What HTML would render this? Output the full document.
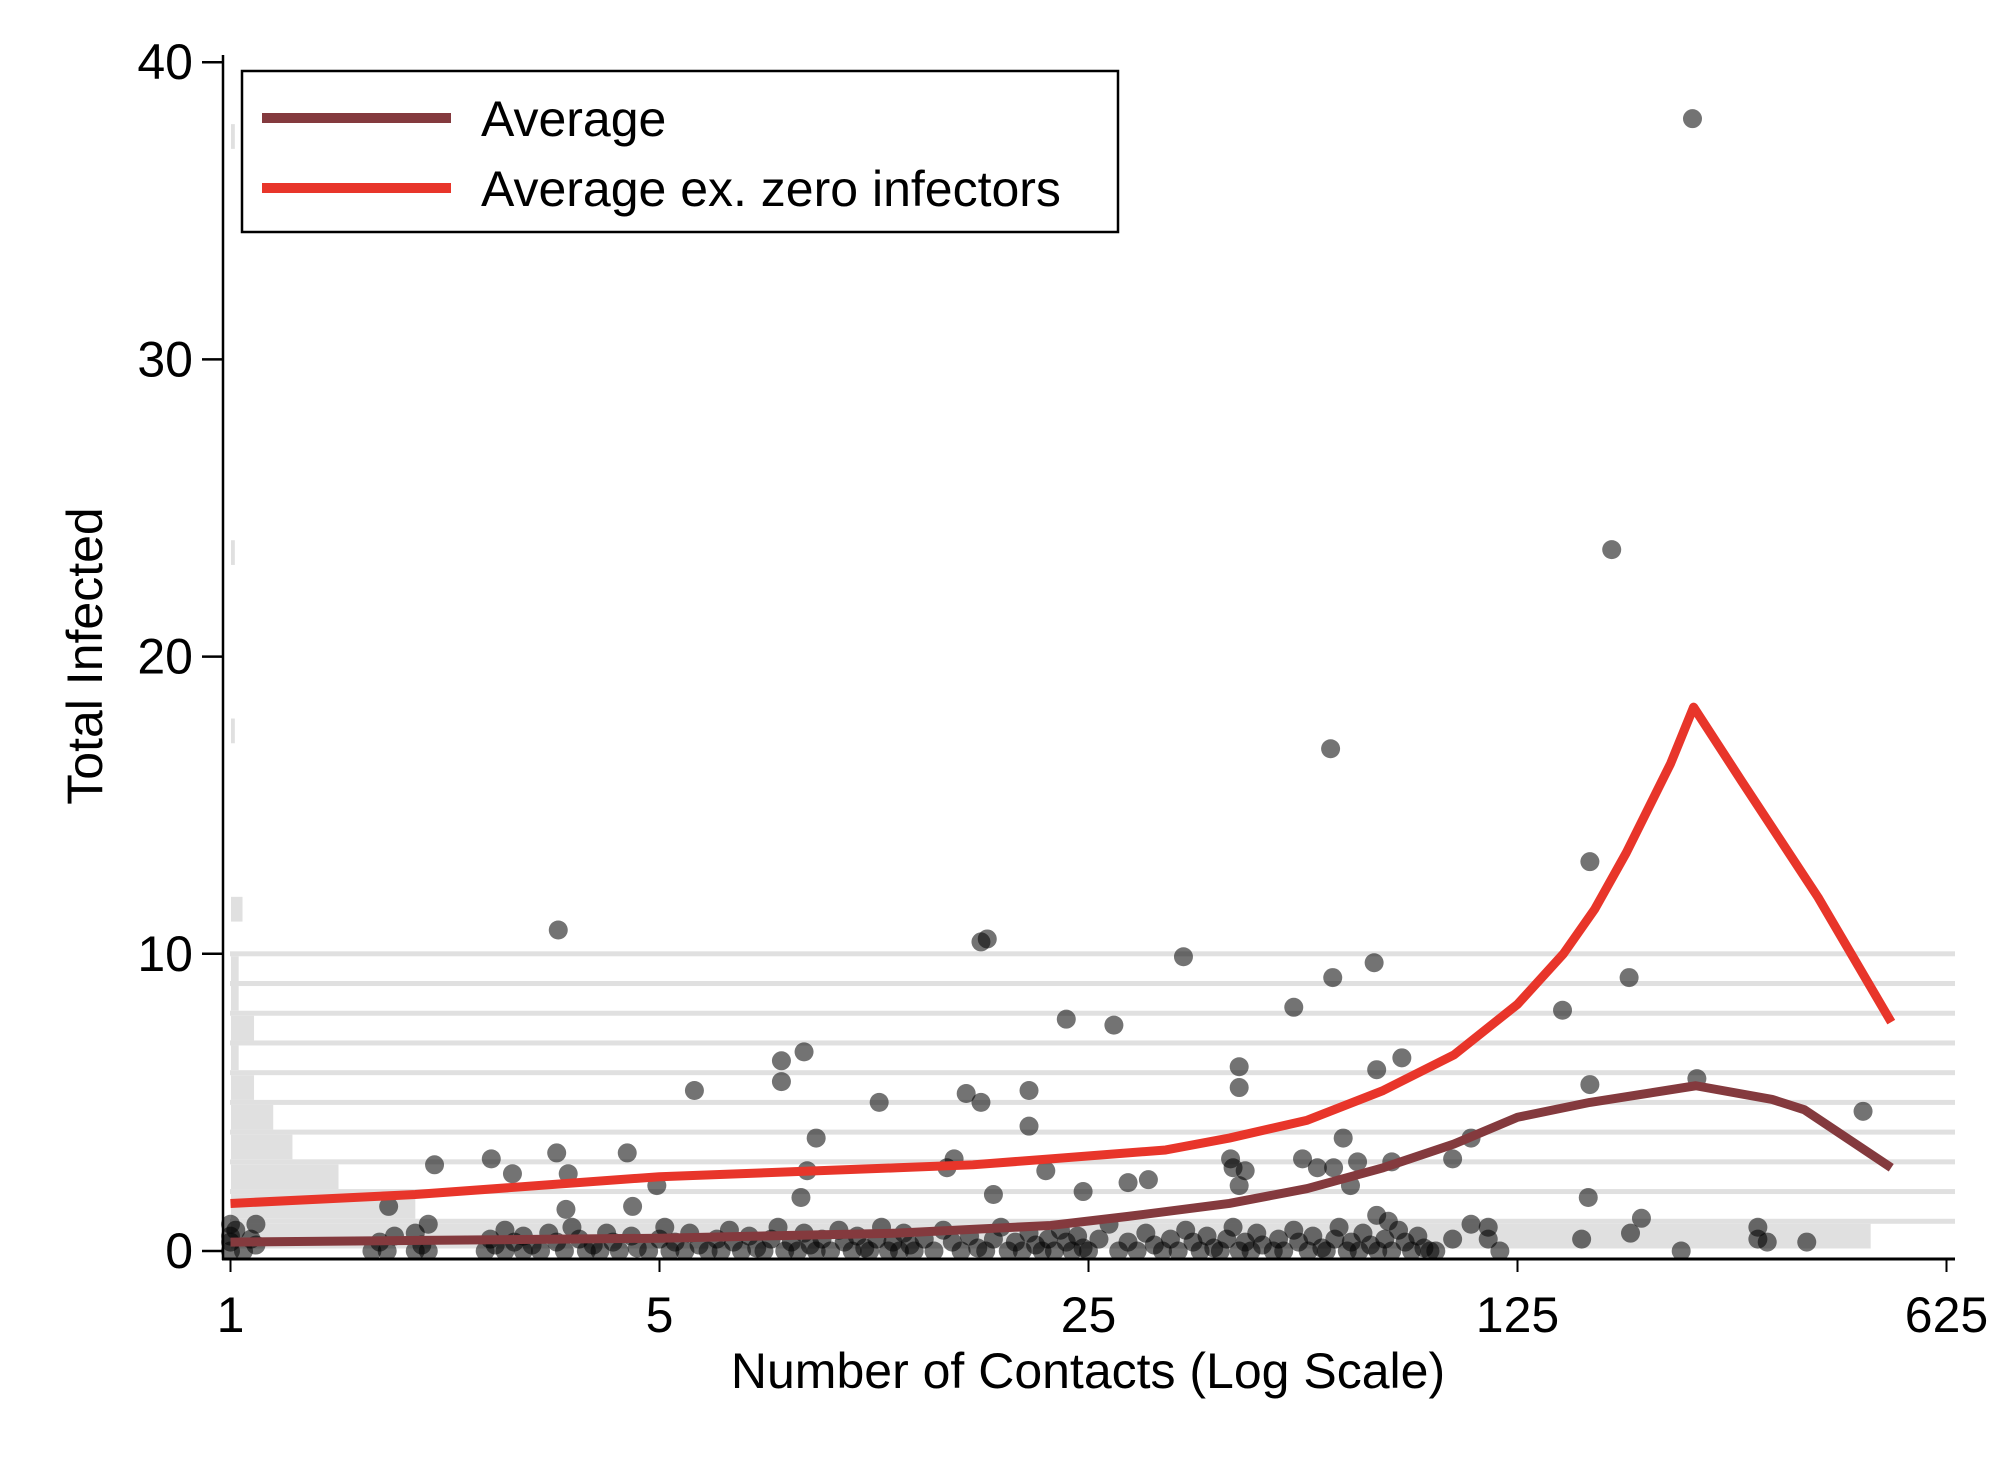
<!DOCTYPE html>
<html><head><meta charset="utf-8"><style>
html,body{margin:0;padding:0;background:#fff}
svg{display:block}
text{font-family:"Liberation Sans",Arial,sans-serif;fill:#000}
</style></head><body>
<svg id="chart" width="2008" height="1460" viewBox="0 0 2008 1460" xmlns="http://www.w3.org/2000/svg">
<g id="hist"></g>
<g id="pts"></g>
<g id="lines"></g>
<g id="axes"></g>
<g>
<rect x="242" y="71" width="876" height="161" fill="#fff" stroke="#000" stroke-width="2.5"/>
<line x1="262" y1="118" x2="451" y2="118" stroke="#843a3e" stroke-width="10"/>
<text x="481" y="136" font-size="50">Average</text>
<line x1="262" y1="188" x2="451" y2="188" stroke="#e8352a" stroke-width="10"/>
<text x="481" y="206" font-size="50">Average ex. zero infectors</text>
</g>
<text x="0" y="0" font-size="50" text-anchor="middle" transform="translate(102,656) rotate(-90)">Total Infected</text>
<text x="1088" y="1388" font-size="50" text-anchor="middle">Number of Contacts (Log Scale)</text>
</svg>
<script>
const xTicks=[1,5,25,125,625];
const yTicks=[0,10,20,30,40];
const histCounts=[427,48,28,16,11,6,2,6,2,2,0,3,0,0,0,0,0,1,0,0,0,0,0,1,0,0,0,0,0,0,0,0,0,0,0,0,0,1];
const avgX=[1,5,12.2,21.7,28.9,42.4,56.8,75.5,98.5,125,164,244,325,367,508];
const avgY=[0.3,0.43,0.6,0.86,1.16,1.6,2.1,2.8,3.6,4.5,5.0,5.56,5.1,4.75,2.8];
const exX=[1,2,5,12.2,16.2,21.7,33.4,42.4,56.8,75.5,98.5,125,148.5,167,188,222,242,290,386,508];
const exY=[1.6,1.9,2.5,2.8,2.9,3.1,3.4,3.8,4.4,5.4,6.6,8.3,10.0,11.5,13.4,16.4,18.3,15.8,11.9,7.7];
const ptX=[241,178,62,3.42,16.7,17.1,35.7,73,62.5,190,164,148,54,23,27.5,8.6,7.9,7.9,81,73.7,44,44,164,245,5.7,20,15.8,16.7,11.4,457,20,9.0,65,105,3.4,4.43,2.66,15.1,98,2.15,55.8,68.6,78,42.6,14.7,43,59,2.88,3.55,8.7,21.3,45,62.7,29,31.3,4.95,17.5,24.5,44,66.8,163,8.5,1.81,3.52,4.52,199,73.7,77,105,112,308,308,319,370,191,159,231,117,112,92,98];
const ptY=[38.1,23.6,16.9,10.8,10.4,10.5,9.9,9.7,9.2,9.2,13.1,8.1,8.2,7.8,7.6,6.7,6.4,5.7,6.5,6.1,6.2,5.5,5.6,5.8,5.4,5.4,5.3,5.0,5.0,4.7,4.2,3.8,3.8,3.8,3.3,3.3,3.1,3.1,3.1,2.9,3.1,3.0,3.0,3.1,2.8,2.8,2.8,2.6,2.6,2.7,2.7,2.7,2.8,2.3,2.4,2.2,1.9,2.0,2.2,2.2,1.8,1.8,1.5,1.4,1.5,1.1,1.2,1.0,0.9,0.8,0.8,0.4,0.3,0.3,0.6,0.4,0,0,0.4,0,0.4];
const zeroX=[1,1,1,1,1.02,1.05,1.08,1.1,1.1,1.7,1.75,1.8,1.85,2,2,2.05,2.1,2.1,2.6,2.65,2.7,2.8,2.8,2.9,3,3,3.1,3.2,3.3,3.4,3.5,3.6,3.7,3.8,3.9,4,4.1,4.2,4.3,4.5,4.6,4.8,5,5.1,5.2,5.3,5.5,5.6,5.8,6,6.2,6.3,6.5,6.6,6.8,7,7.2,7.4,7.6,7.8,8,8.2,8.4,8.6,8.8,9,9.2,9.5,9.8,10,10.3,10.5,10.8,11,11.3,11.5,11.8,12,12.3,12.5,12.8,13,13.5,14,14.5,15,15.5,16,16.5,17,17.5,18,18.5,19,19.5,20,20.5,21,21.5,22,22.5,23,23.5,24,24.5,25,26,27,28,29,30,31,32,33,34,35,36,37,38,39,40,41,42,43,44,45,46,47,48,50,51,52,54,55,57,58,60,61,63,64,66,67,69,70,72,74,76,78,80,82,84,86,88,90];
const zeroY=[0,0.5,0.9,0.3,0.7,0,0.4,0.2,0.9,0,0.3,0,0.5,0,0.6,0.2,0,0.9,0,0.4,0.2,0,0.7,0.3,0,0.5,0.2,0,0.6,0.3,0,0.8,0.4,0,0.2,0,0.6,0.3,0,0.5,0.1,0,0.4,0.8,0,0.3,0,0.6,0.2,0,0.4,0,0.7,0.3,0,0.5,0.1,0,0.4,0.8,0,0.3,0,0.6,0.2,0,0.4,0,0.7,0.3,0,0.5,0.1,0,0.4,0.8,0,0.3,0,0.6,0.2,0,0.4,0,0.7,0.3,0,0.5,0.1,0,0.4,0.8,0,0.3,0,0.6,0.2,0,0.4,0,0.7,0.3,0,0.5,0.1,0,0.4,0.9,0,0.3,0,0.6,0.2,0,0.4,0,0.7,0.3,0,0.5,0.1,0,0.4,0.8,0,0.3,0,0.6,0.2,0,0.4,0,0.7,0.3,0,0.5,0.1,0,0.4,0.8,0,0.3,0,0.6,0.2,0,0.4,0,0.7,0.3,0,0.5,0.1,0];
const NS='http://www.w3.org/2000/svg';
const X0=230.5,PX5=429,Y0=1251,PY=29.72;
function sx(v){return X0+PX5*Math.log(v)/Math.log(5);}
function sy(v){return Y0-PY*v;}
function mk(t,a,p){const e=document.createElementNS(NS,t);for(const k in a)e.setAttribute(k,a[k]);p.appendChild(e);return e;}
const hist=document.getElementById('hist');
for(let i=1;i<=10;i++){
 const l=mk('rect',{x:230,y:sy(i)-2.5,width:1725,height:5,fill:'#e0e0e0'},hist);
 
 
}
histCounts.forEach((c,i)=>{if(!c)return;
 const r=mk('rect',{x:231,y:sy(i+1)+2.5,width:c*3.84,height:PY-5,fill:'#e0e0e0'},hist);
 
 
});
const pts=document.getElementById('pts');
function dot(x,y){const c=mk('circle',{cx:sx(x),cy:sy(y),r:9.5,fill:'#000','fill-opacity':0.55},pts);
 
 }
zeroX.forEach((x,i)=>dot(x,zeroY[i]));
ptX.forEach((x,i)=>dot(x,ptY[i]));
const lines=document.getElementById('lines');
function poly(xs,ys,col,name){const p=mk('polyline',{points:xs.map((x,i)=>sx(x)+','+sy(ys[i])).join(' '),fill:'none',stroke:col,'stroke-width':9,'stroke-linejoin':'round'},lines);
 
 }
poly(avgX,avgY,'#843a3e','line-average');
poly(exX,exY,'#e8352a','line-average-ex-zero');
const ax=document.getElementById('axes');
let a=mk('line',{x1:223,y1:55,x2:223,y2:1260,stroke:'#000','stroke-width':2.5},ax);

a=mk('line',{x1:222,y1:1259,x2:1955,y2:1259,stroke:'#000','stroke-width':3},ax);

yTicks.forEach(v=>{const t=mk('line',{x1:202,y1:sy(v),x2:223,y2:sy(v),stroke:'#000','stroke-width':2.5},ax);
 
 const l=mk('text',{x:193,y:sy(v)+17,'font-size':50,'text-anchor':'end'},ax);l.textContent=v;
 });
xTicks.forEach(v=>{const t=mk('line',{x1:sx(v),y1:1259,x2:sx(v),y2:1272,stroke:'#000','stroke-width':2},ax);
 
 const l=mk('text',{x:sx(v),y:1332,'font-size':50,'text-anchor':'middle'},ax);l.textContent=v;
 });
</script>
</body></html>
